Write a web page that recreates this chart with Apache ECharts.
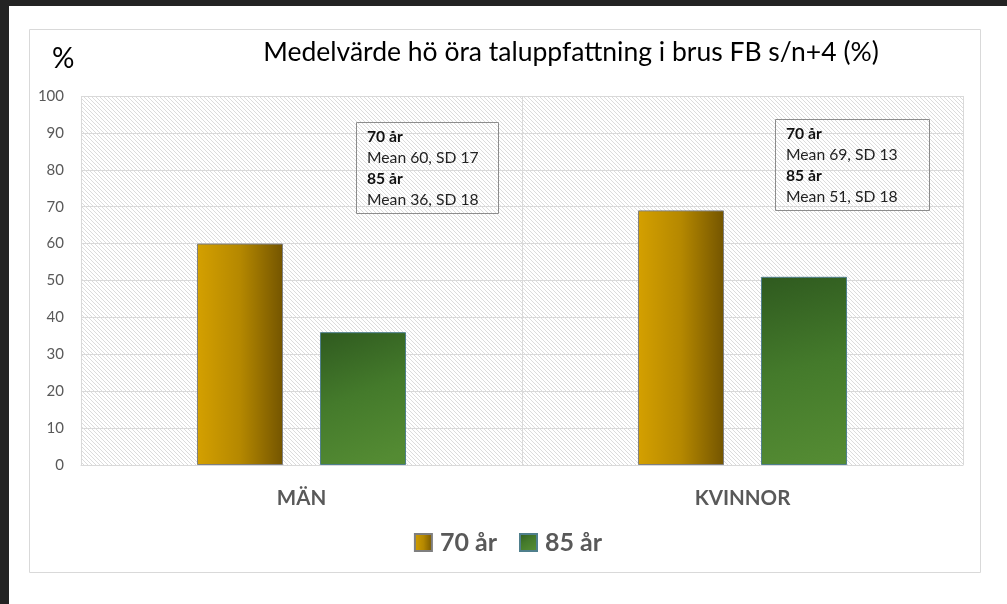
<!DOCTYPE html>
<html>
<head>
<meta charset="utf-8">
<script src="https://cdn.jsdelivr.net/npm/echarts@6/dist/echarts.min.js"></script>
<style>
html,body{margin:0;padding:0;background:#232323;width:1007px;height:604px;overflow:hidden;}
#chart{position:absolute;left:9px;top:6px;width:998px;height:598px;background:#fff;}
</style>
</head>
<body>
<div id="chart"></div>
<script>
const categories = ['MÄN', 'KVINNOR'];
const seriesNames = ['70 år', '85 år'];
const mean70 = [60, 69];
const mean85 = [36, 51];
const sd70 = [17, 13];
const sd85 = [18, 18];
const yMin = 0, yMax = 100, yInterval = 10;

const FONT = 'Lato, "Open Sans", sans-serif';

// hatch pattern
const pc = document.createElement('canvas');
pc.width = 4; pc.height = 4;
const pctx = pc.getContext('2d');
pctx.fillStyle = '#ffffff';
pctx.fillRect(0, 0, 4, 4);
pctx.fillStyle = '#dcdcdc';
for (let i = 0; i < 4; i++) pctx.fillRect(i, i, 1, 1);

function boxText(i) {
  return '{b|' + seriesNames[0] + '}\n{n|Mean ' + mean70[i] + ', SD ' + sd70[i] + '}\n' +
         '{b|' + seriesNames[1] + '}\n{n|Mean ' + mean85[i] + ', SD ' + sd85[i] + '}';
}
const rich = {
  b: {fontFamily: FONT, fontSize: 15.7, fontWeight: 'bold', color: '#111', lineHeight: 21},
  n: {fontFamily: FONT, fontSize: 15.7, fontWeight: 'normal', color: '#222', lineHeight: 21}
};

const chart = echarts.init(document.getElementById('chart'), null, {renderer: 'canvas'});
chart.setOption({
  animation: false,
  textStyle: {fontFamily: FONT},
  graphic: [
    {type: 'rect', shape: {x: 20.5, y: 23.5, width: 951, height: 543},
     style: {fill: 'none', stroke: '#d9d9d9', lineWidth: 1}, silent: true}
  ],
  title: [
    {text: 'Medelvärde hö öra taluppfattning i brus FB s/n+4 (%)', left: 557, top: 28, textAlign: 'center',
     textStyle: {fontFamily: FONT, fontSize: 26.5, fontWeight: 'normal', color: '#000'}},
    {text: '%', left: 38, top: 34,
     textStyle: {fontFamily: FONT, fontSize: 28, fontWeight: 'normal', color: '#000'}},
    {text: boxText(0), left: 347, top: 114, padding: [6, 20, 6, 11],
     borderColor: '#8c8c8c', borderWidth: 1, textStyle: {fontWeight: 'normal', rich: rich}},
    {text: boxText(1), left: 766, top: 111, padding: [6, 32, 6, 11],
     borderColor: '#8c8c8c', borderWidth: 1, textStyle: {fontWeight: 'normal', rich: rich}}
  ],
  grid: {left: 72, top: 90, width: 882, height: 369, show: true, borderWidth: 0,
         backgroundColor: {image: pc, repeat: 'repeat'}},
  legend: {
    data: seriesNames, left: 'center', top: 519, itemWidth: 17, itemHeight: 17, itemGap: 22,
    icon: 'rect',
    textStyle: {fontFamily: FONT, fontSize: 25, fontWeight: 'bold', color: '#595959', padding: [0, 0, 0, 3]}
  },
  xAxis: {
    type: 'category', data: categories,
    axisLine: {show: true, lineStyle: {color: '#d9d9d9'}},
    axisTick: {show: false},
    splitLine: {show: true, lineStyle: {color: '#d9d9d9'}},
    axisLabel: {margin: 23, fontFamily: FONT, fontSize: 20.5, fontWeight: 'bold', color: '#595959'}
  },
  yAxis: {
    type: 'value', min: yMin, max: yMax, interval: yInterval,
    axisLine: {show: false}, axisTick: {show: false},
    splitLine: {lineStyle: {color: '#d9d9d9'}},
    axisLabel: {margin: 17, fontFamily: FONT, fontSize: 15, color: '#595959'}
  },
  series: [
    {name: seriesNames[0], type: 'bar', data: mean70, barGap: '43%', barCategoryGap: '52.6%',
     itemStyle: {
       color: new echarts.graphic.LinearGradient(0, 0, 1, 0, [
         {offset: 0, color: '#d4a000'}, {offset: 0.5, color: '#b58800'}, {offset: 1, color: '#745500'}]),
       borderColor: '#7f7f7f', borderWidth: 1
     }},
    {name: seriesNames[1], type: 'bar', data: mean85,
     itemStyle: {
       color: new echarts.graphic.LinearGradient(0, 0, 0.6, 1, [
         {offset: 0, color: '#2f5a1f'}, {offset: 0.5, color: '#447a2b'}, {offset: 1, color: '#548b33'}]),
       borderColor: '#4f7f8c', borderWidth: 1
     }}
  ]
});
</script>
</body>
</html>
